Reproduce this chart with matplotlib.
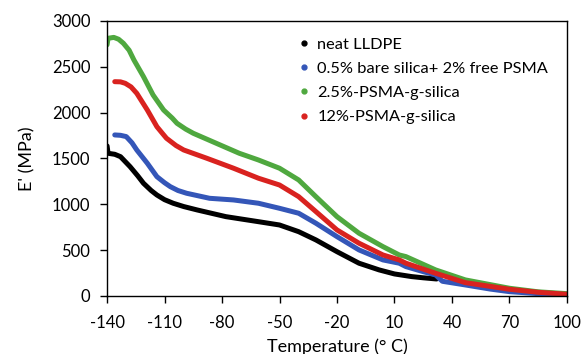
import matplotlib.pyplot as plt

plt.rcParams['font.family'] = ['Lato', 'DejaVu Sans']
plt.rcParams['axes.unicode_minus'] = False

# Storage modulus E' (MPa) vs temperature (deg C)
t_neat = [-140, -139.5, -136, -133, -128, -124, -121, -117, -114, -110,
          -105.5, -100, -93, -78, -61, -50, -40, -31, -20, -8.5, 2, 10, 19,
          25, 32]
e_neat = [1636, 1556, 1545, 1519, 1410, 1310, 1229, 1150, 1101, 1050,
          1011, 975, 938, 865, 810, 774, 701, 611, 483, 357, 284, 240, 211,
          198, 185]

t_bare = [-136, -133, -130, -127, -124.5, -119, -114, -110, -107, -103,
          -98.5, -86.5, -74, -61, -50, -40, -31, -20, -8.5, 4, 12.5, 16, 25,
          31.5, 35, 47, 60, 70, 85, 100]
e_bare = [1756, 1752, 1738, 1670, 1592, 1447, 1301, 1235, 1192, 1150,
          1120, 1065, 1047, 1011, 956, 902, 793, 647, 502, 393, 357, 320,
          265, 229, 160, 120, 75, 47, 25, 15]

t_g25 = [-140, -139.5, -136.5, -134, -131.5, -128.5, -126, -121, -116,
         -110.5, -106, -103.5, -99, -95, -83, -71, -61, -50, -40, -31, -20,
         -8.5, 4, 12.5, 16, 31.5, 47, 70, 85, 100]
e_g25 = [2740, 2810, 2820, 2800, 2756, 2680, 2574, 2392, 2192,
         2028, 1940, 1883, 1820, 1774, 1665, 1556, 1483, 1393, 1265, 1083,
         865, 684, 538, 447, 429, 284, 175, 84, 45, 25]

t_g12 = [-136, -133, -130.5, -127.5, -124.5, -119, -114, -111, -109, -104,
         -100, -88, -74, -61, -50, -40, -31, -20, -8.5, 4, 12.5, 16, 31.5, 47,
         70, 85, 100]
e_g12 = [2337, 2335, 2319, 2280, 2210, 2028, 1846, 1770, 1720, 1640,
         1592, 1502, 1393, 1284, 1210, 1083, 920, 720, 575, 447, 393, 357,
         247, 145, 73, 40, 18]

series = [
    (t_neat, e_neat, 'neat LLDPE', '#000000'),
    (t_bare, e_bare, '0.5% bare silica+ 2% free PSMA', '#3456b8'),
    (t_g25, e_g25, '2.5%-PSMA-g-silica', '#4fa83f'),
    (t_g12, e_g12, '12%-PSMA-g-silica', '#d9221f'),
]

fig = plt.figure(figsize=(5.82, 3.54), dpi=100)
ax = fig.add_axes([0.184, 0.164, 0.79, 0.777])

for t, e, lab, col in series:
    ax.plot(t, e, '-', color=col, lw=3.6, solid_capstyle='round',
            solid_joinstyle='round')
    ax.plot([], [], 'o', color=col, ms=3.5, label=lab)

ax.set_xlim(-140, 100)
ax.set_ylim(0, 3000)
ax.set_xticks(range(-140, 101, 30))
ax.set_yticks(range(0, 3001, 500))
ax.tick_params(direction='out', length=5, width=1, labelsize=12)
ax.tick_params(axis='x', pad=9)
ax.tick_params(axis='y', pad=7)
for s in ax.spines.values():
    s.set_linewidth(1)

ax.set_xlabel('Temperature (° C)', fontsize=13, labelpad=5)
ax.set_ylabel("E' (MPa)", fontsize=13, labelpad=12)

ax.legend(loc='upper left', bbox_to_anchor=(0.397, 0.965), frameon=False,
          fontsize=11.8, handletextpad=0.3, handlelength=1.0,
          labelspacing=0.6, borderaxespad=0)

plt.savefig('out.png', dpi=100)
